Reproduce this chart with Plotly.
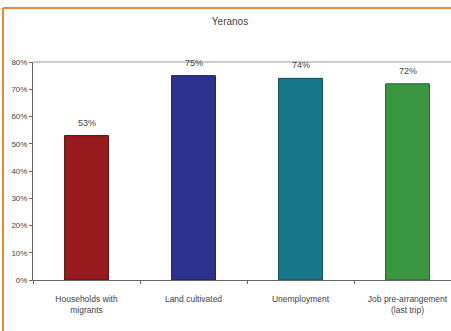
import plotly.graph_objects as go

categories = ["Households with<br>migrants", "Land cultivated", "Unemployment", "Job pre-arrangement<br>(last trip)"]
values = [53, 75, 74, 72]
value_labels = ["53%", "75%", "74%", "72%"]
colors = ["#961a1e", "#2d3190", "#17788c", "#3b9641"]
outline = ["#5a1012", "#1c1f5c", "#0e4a57", "#25602a"]
y_ticks = [0, 10, 20, 30, 40, 50, 60, 70, 80]
y_tick_labels = ["0%", "10%", "20%", "30%", "40%", "50%", "60%", "70%", "80%"]
title_text = "Yeranos"

W, H = 451, 331
L, R, T, B = 33, 0, 62, 51
pw, ph = W - L - R, H - T - B

fig = go.Figure()
fig.add_trace(go.Bar(
    x=categories, y=values, width=0.41,
    marker=dict(color=colors, line=dict(color=outline, width=1)),
))
for c, v, t in zip(categories, values, value_labels):
    fig.add_annotation(x=c, y=v, text=t, showarrow=False, yanchor="middle", yshift=13,
                       font=dict(family="Liberation Sans, Arial", size=9, color="#444"))

fig.update_layout(
    width=W, height=H,
    margin=dict(l=L, r=R, t=T, b=B, autoexpand=False),
    paper_bgcolor="white", plot_bgcolor="white",
    showlegend=False,
    font=dict(family="Liberation Sans, Arial", color="#444"),
    title=dict(text=title_text, x=(230 - L) / pw, xref="paper", xanchor="center",
               y=1 - 21 / H, yanchor="middle", automargin=False,
               font=dict(size=10, color="#444")),
)
fig.update_xaxes(
    range=[-0.5, -0.5 + pw / 107.0], automargin=False,
    showline=True, linecolor="#666", linewidth=1,
    ticks="outside", ticklen=3, tickcolor="#666", tickson="boundaries",
    ticklabelstandoff=11,
    tickfont=dict(size=8.5, color="#444"), showgrid=False,
)
fig.update_yaxes(
    range=[0, 80], tickmode="array", tickvals=y_ticks, ticktext=y_tick_labels,
    automargin=False,
    showline=True, linecolor="#666", linewidth=1,
    ticks="outside", ticklen=3, tickcolor="#666",
    tickfont=dict(size=8, color="#444"), showgrid=False, zeroline=False,
)

# plot area top border (Excel-style)
fig.add_shape(type="line", xref="paper", yref="paper", x0=0, x1=1, y0=1, y1=1,
              line=dict(color="#999", width=1))
# orange outer frame (top and left edges)
fx = (3 - L) / pw
fy_top = (H - B - 8) / ph
fy_bot = (H - B - H) / ph
fig.add_shape(type="line", xref="paper", yref="paper", x0=fx, x1=1 + R / pw, y0=fy_top, y1=fy_top,
              line=dict(color="#e8893a", width=2))
fig.add_shape(type="line", xref="paper", yref="paper", x0=fx, x1=fx, y0=fy_top, y1=fy_bot,
              line=dict(color="#e8893a", width=2))

fig.write_html("out.html", config={"displayModeBar": False},
               post_script="document.body.style.margin='0';document.body.style.overflow='hidden';")
